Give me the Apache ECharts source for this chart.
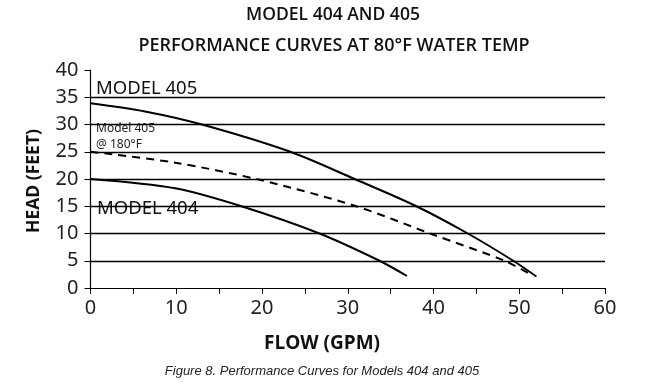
<!DOCTYPE html>
<html><head><meta charset="utf-8">
<script src="https://cdn.jsdelivr.net/npm/echarts@6/dist/echarts.min.js"></script>
<style>html,body{margin:0;padding:0;background:#fff}#c{width:665px;height:387px}</style>
</head><body><div id="c"></div>
<script>
const titleText = 'MODEL 404 AND 405';
const subtitleText = 'PERFORMANCE CURVES AT 80°F WATER TEMP';
const xName = 'FLOW (GPM)';
const yName = 'HEAD (FEET)';
const caption = 'Figure 8. Performance Curves for Models 404 and 405';

const model405Flow = [0, 6.35, 13.0, 23.3, 30.8, 38.0, 44.0, 49.3, 52.0];
const model405Head = [33.9, 32.4, 30.0, 25.0, 20.0, 15.0, 10.0, 5.0, 2.1];
const model405HotFlow = [0, 9.85, 19.6, 31.0, 39.6, 48.3, 51.2];
const model405HotHead = [25.0, 23.0, 19.9, 15.0, 10.0, 5.0, 2.6];
const model404Flow = [0, 9.85, 17.6, 26.7, 33.7, 36.9];
const model404Head = [20.0, 18.3, 15.0, 10.0, 5.0, 2.2];

const pairs = (xs, ys) => xs.map((x, i) => [x, ys[i]]);
const FONT = 'Noto Sans';
const chart = echarts.init(document.getElementById('c'), null, {renderer: 'canvas'});
const gridColors = ['rgba(0,0,0,0)', '#000', '#000', '#000', '#000', '#000', '#000', '#000', 'rgba(0,0,0,0)'];
const curve = {type: 'line', smooth: 0.3, symbol: 'none'};

chart.setOption({
  animation: false,
  backgroundColor: '#fff',
  grid: {left: 90.5, right: 60, top: 70, bottom: 99, containLabel: false},
  xAxis: {
    type: 'value', min: 0, max: 60, interval: 5,
    axisLine: {show: true, lineStyle: {color: '#000', width: 1.2}},
    axisTick: {show: true, length: 6, lineStyle: {color: '#000', width: 1}},
    axisLabel: {color: '#222', fontFamily: FONT, fontSize: 20, margin: 10,
      formatter: v => (v % 10 === 0 ? String(v) : '')},
    splitLine: {show: false}
  },
  yAxis: {
    type: 'value', min: 0, max: 40, interval: 5,
    axisLine: {show: true, lineStyle: {color: '#000', width: 1.2}},
    axisTick: {show: true, length: 6, lineStyle: {color: '#000', width: 1}},
    axisLabel: {color: '#222', fontFamily: FONT, fontSize: 20, margin: 12},
    splitLine: {show: true, lineStyle: {color: gridColors, width: 1.4}}
  },
  series: [
    Object.assign({}, curve, {data: pairs(model405Flow, model405Head), lineStyle: {color: '#000', width: 2}}),
    Object.assign({}, curve, {data: pairs(model405HotFlow, model405HotHead), lineStyle: {color: '#000', width: 2, type: [8, 6]}}),
    Object.assign({}, curve, {data: pairs(model404Flow, model404Head), lineStyle: {color: '#000', width: 2}})
  ],
  graphic: [
    {type: 'text', x: 333, y: 6, style: {text: titleText, fill: '#111', font: '600 17.5px "Open Sans"', align: 'center'}},
    {type: 'text', x: 334, y: 37, style: {text: subtitleText, fill: '#111', font: '600 18px "Open Sans"', align: 'center'}},
    {type: 'text', x: 96, y: 79, style: {text: 'MODEL 405', fill: '#111', font: '18.5px ' + FONT}},
    {type: 'text', x: 94, y: 199, style: {text: 'MODEL 404', fill: '#111', font: '18.5px ' + FONT, backgroundColor: '#fff', padding: [0, 3, 0, 3]}},
    {type: 'text', x: 96, y: 121, style: {text: 'Model 405\n@ 180°F', fill: '#222', font: '12px ' + FONT, lineHeight: 16}},
    {type: 'text', x: 322, y: 334, style: {text: xName, fill: '#111', font: 'bold 19px "Open Sans"', align: 'center'}},
    {type: 'text', x: 25, y: 181, rotation: Math.PI / 2, style: {text: yName, fill: '#111', font: 'bold 17.5px "Open Sans"', align: 'center', verticalAlign: 'top'}},
    {type: 'text', x: 322, y: 365, style: {text: caption, fill: '#222', font: 'italic 13px "Liberation Sans"', align: 'center'}}
  ]
});
</script></body></html>
